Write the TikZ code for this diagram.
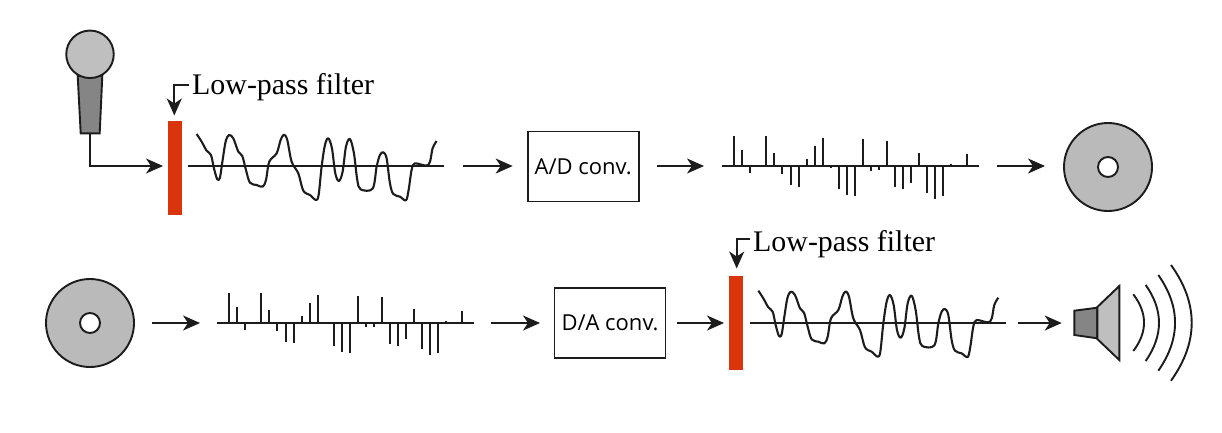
\documentclass[tikz,border=0pt]{standalone}
\usepackage{fontspec}
\setmainfont{Liberation Serif}
\newfontfamily\boxfont{Open Sans}
\usetikzlibrary{arrows.meta,positioning}
\definecolor{ink}{HTML}{1C1C1C}
\definecolor{filterred}{HTML}{D9340C}
\tikzset{
  x=1pt,y=-1pt,
  line/.style={draw=ink,line width=1.9pt},
  arr/.style={line,-{Stealth[length=17pt,width=15pt,inset=5pt]}},
  filterbar/.style={rectangle,fill=filterred,inner sep=0pt,minimum width=14pt,minimum height=94.5pt},
  conv/.style={rectangle,draw=ink,line width=1.9pt,inner sep=0pt,minimum width=111pt,minimum height=70pt,font=\boxfont\fontsize{22}{24}\selectfont},
  disc/.style={circle,draw=ink,line width=1.9pt,fill=black!27,inner sep=0pt,minimum size=88pt},
  hole/.style={circle,draw=ink,line width=1.9pt,fill=white,inner sep=0pt,minimum size=20pt},
  flabel/.style={anchor=base west,inner sep=0pt,font=\fontsize{29.9}{32}\selectfont},
  wave/.pic={
    \begin{scope}[x=0.3333pt,y=-0.3333pt,shift={(-475,-438)}]
      \draw[line] (475,438) -- (1242,438);
      \draw[draw=ink,line width=2.1pt,line join=round] plot[smooth,tension=.55] coordinates {
        (500,342)(515,365)(530,392)(543,405)(552,445)(562,478)(570,472)(578,420)(587,365)(597,345)(610,355)(625,395)(637,408)
        (648,450)(660,488)(680,495)(698,500)(708,480)(718,425)(740,400)(752,360)(762,344)(772,360)(785,425)(805,460)(820,512)
        (840,525)(858,540)(866,525)(875,440)(885,375)(895,355)(906,385)(916,460)(927,483)(938,455)(948,380)(960,357)(972,400)(982,480)(992,508)(1028,506)
        (1040,440)(1050,405)(1060,397)(1070,415)(1080,490)(1090,522)(1110,530)(1128,541)(1136,510)(1145,450)(1155,430)(1195,435)(1208,385)(1220,363)};
    \end{scope}
  },
  pulses/.pic={
    \begin{scope}[x=0.3333pt,y=-0.3333pt,shift={(-52,-128)}]
      \draw[line] (52,128) -- (823,128);
      \foreach \px/\py in {86/38,111/80,136/150,184/38,208/90,232/152,257/185,281/190,305/107,329/68,353/44,377/133,402/197,426/216,450/219,474/48,498/142,522/140,546/52,570/192,595/198,619/178,643/88,667/208,691/226,715/218,739/122,763/126,787/92}
        \draw[draw=ink,line width=1.9pt] (\px,128) -- (\px,\py);
    \end{scope}
  },
}
\begin{document}
\begin{tikzpicture}
\useasboundingbox (0,0) rectangle (1222,432);
% microphone
\coordinate (mictl) at (77.7,76); \coordinate (mictr) at (102.3,76);
\coordinate (micbr) at (99.7,133.3); \coordinate (micbl) at (80.7,133.3);
\coordinate (micout) at (90,133.3);
\draw[line,fill=black!48] (mictl) -- (mictr) -- (micbr) -- (micbl) -- cycle;
\node[circle,draw=ink,line width=1.9pt,fill=black!25,inner sep=0pt,minimum size=47.5pt] (mic) at (90,54.3) {};
% top row
\node[filterbar] (f1) at (174.5,167.8) {};
\coordinate (w1) at (90,166);
\draw[arr] (micout) -- (w1) -- (163,166);
\node[flabel] (l1) at (192,94) {Low-pass filter};
\coordinate (l1c) at (174.3,85);
\coordinate (l1s) at (189.3,85);
\coordinate (l1e) at (174.3,115.5);
\draw[arr] (l1s) -- (l1c) -- (l1e);
\pic at (188.3,166) {wave};
\node[conv] (ad) at (583.2,166.5) {A/D conv.};
\coordinate (a1s) at (463.3,166); \coordinate (a1e) at (512.7,166);
\draw[arr] (a1s) -- (a1e);
\coordinate (a2s) at (657,166); \coordinate (a2e) at (704,166);
\draw[arr] (a2s) -- (a2e);
\pic at (722.3,166) {pulses};
\coordinate (a3s) at (997,166); \coordinate (a3e) at (1045,166);
\draw[arr] (a3s) -- (a3e);
\node[disc] (d1) at (1108,167) {};
\node[hole] (h1) at (1108,167) {};
% bottom row
\node[disc] (d2) at (90,323) {};
\node[hole] (h2) at (90,323) {};
\coordinate (b1s) at (152,323); \coordinate (b1e) at (200,323);
\draw[arr] (b1s) -- (b1e);
\pic at (217.3,322.7) {pulses};
\coordinate (b2s) at (491,323); \coordinate (b2e) at (540,323);
\draw[arr] (b2s) -- (b2e);
\node[conv] (da) at (610,323) {D/A conv.};
\coordinate (b3s) at (677,323); \coordinate (b3e) at (724,323);
\draw[arr] (b3s) -- (b3e);
\node[filterbar] (f2) at (736.2,323) {};
\node[flabel] (l2) at (753,251) {Low-pass filter};
\coordinate (l2c) at (736.7,239);
\coordinate (l2s) at (750,239);
\coordinate (l2e) at (736.7,268.5);
\draw[arr] (l2s) -- (l2c) -- (l2e);
\pic at (750,322.7) {wave};
\coordinate (b4s) at (1017.7,323); \coordinate (b4e) at (1061.7,323);
\draw[arr] (b4s) -- (b4e);
% speaker
\draw[line,fill=black!48] (1074.3,310.7) -- (1097.3,307.7) -- (1097.3,338.3) -- (1074.3,335) -- cycle;
\draw[line,fill=black!25] (1097.3,307) -- (1119.3,286) -- (1119.3,360) -- (1097.3,339) -- cycle;
\draw[line] (1133.3,294.3) .. controls (1147.6,313.2) and (1147.6,332.1) .. (1133.3,351);
\draw[line] (1145.7,285) .. controls (1163.4,310.1) and (1163.4,335.3) .. (1145.7,361);
\draw[line] (1158.3,275) .. controls (1180.6,306.8) and (1180.6,338.8) .. (1158.3,370.7);
\draw[line] (1171,265) .. controls (1198.6,303.5) and (1198.6,342) .. (1171,380.7);
\end{tikzpicture}
\end{document}
